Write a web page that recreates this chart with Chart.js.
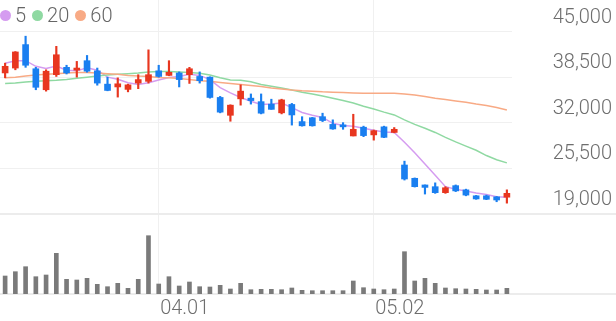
<!DOCTYPE html>
<html>
<head>
<meta charset="utf-8">
<script src="https://cdn.jsdelivr.net/npm/chart.js@4.4.1/dist/chart.umd.min.js"></script>
<style>
  html, body { margin: 0; padding: 0; background: #fff; }
  #wrap { position: relative; width: 616px; height: 321px; }
  #legend {
    position: absolute; left: 0; top: 3px;
    font-family: Roboto, sans-serif; font-weight: 300; font-size: 20px; color: #666;
    display: flex; align-items: center; line-height: 24px;
  }
  #legend .dot { display: inline-block; width: 11px; height: 11px; border-radius: 50%; margin-right: 4px; }
  #legend .txt { margin-right: 6px; }
</style>
</head>
<body>
<div id="wrap">
  <canvas id="c" width="616" height="321"></canvas>
  <div id="legend"></div>
</div>
<script>
// trading days
const dates = ['03.11','03.12','03.13','03.14','03.15','03.18','03.19','03.20','03.21','03.22',
  '03.25','03.26','03.27','03.28','03.29','04.01','04.02','04.03','04.04','04.05',
  '04.08','04.09','04.11','04.12','04.15','04.16','04.17','04.18','04.19','04.22',
  '04.23','04.24','04.25','04.26','04.29','04.30','05.02','05.03','05.07','05.08',
  '05.09','05.10','05.13','05.14','05.16','05.17','05.20','05.21','05.22','05.23'];

const opens = [39150,39850,43200,39750,36750,38900,39950,39550,40900,39450,
  37550,37150,36800,37700,37950,39450,38800,39150,38900,38650,
  38550,35650,33100,35450,35550,35050,34700,33450,34650,32200,
  32750,32900,31800,31700,30150,31400,30300,31450,30650,26000,
  24100,23150,22900,22050,23050,22450,21600,21600,21450,21400];
const highs = [40550,42200,44400,39950,39600,42950,40250,40800,41650,39850,
  38550,38450,37550,38900,42450,40250,40900,39300,39950,39300,
  38600,35800,34600,37450,36150,36150,35400,35400,34800,32900,
  32800,33400,32450,32050,33250,31550,31000,31550,31350,26550,
  24150,23150,23450,22900,23150,22550,21650,21700,21500,22450];
const lows = [38450,39600,39950,36750,36550,38650,39000,38550,39250,37400,
  36600,35700,36450,36900,37700,38550,38750,37150,37650,37700,
  35550,33450,32250,34550,34700,33300,33950,33300,31700,31550,
  31550,32200,31100,31100,30150,30050,29550,29900,30600,23850,
  22850,21850,21950,21950,22200,21600,21100,21050,20750,20550];
const closes = [40100,42150,40250,37100,39400,41750,39150,39850,39400,37700,
  36650,37600,37450,38200,38900,38650,39250,38200,39750,38050,
  35650,33550,34550,36550,35200,33400,33950,35300,33150,31600,
  31600,32350,31150,31450,31100,30200,30900,29950,31100,24000,
  22900,22800,22050,22750,22300,21700,21150,21100,21000,21950];

const ma5 = [40550,40900,40900,40100,39800,40150,39550,39450,39900,39550,
  38550,38250,37750,37500,37750,38150,38500,38650,38950,38800,
  38200,37050,36300,35650,35100,34650,34700,34850,34200,33500,
  33100,32800,31950,31650,31550,31250,30950,30700,30650,29250,
  27750,26150,24550,22900,22550,22300,22000,21800,21450,21400];
const ma20 = [37650,37700,37850,37950,38050,38100,38200,38400,38550,38700,
  38850,38950,39050,39150,39300,39350,39350,39300,39200,39100,
  38850,38450,38150,38100,37900,37500,37250,37000,36700,36400,
  36150,35850,35550,35200,34850,34400,34000,33550,33150,32450,
  31800,31250,30650,29950,29300,28700,28100,27350,26750,26300];
const ma60 = [38450,38550,38700,38850,38950,39050,39150,39200,39200,39150,
  39050,38950,38800,38700,38650,38500,38450,38350,38200,38050,
  37950,37800,37650,37500,37350,37200,37000,36850,36700,36600,
  36550,36450,36400,36350,36300,36250,36250,36250,36250,36150,
  36000,35800,35550,35350,35150,34950,34700,34500,34200,33850];

// volume, thousand shares
const volumes = [360,446,546,346,380,814,294,280,314,194,
  146,214,114,294,1166,200,346,160,240,146,
  140,174,100,214,86,94,94,86,120,74,
  66,66,66,66,260,126,100,86,100,846,
  260,314,214,120,106,100,94,80,80,114];

const priceTicks = [19000, 25500, 32000, 38500, 45000];
const dateTicks = [15, 36]; // 04.01, 05.02
const maNames = ['5', '20', '60'];
const maColors = ['#d59cf0', '#8fd9a2', '#f8aa85'];

const UP = '#e8361f';
const DOWN = '#1a7ff0';
const candleColors = closes.map((c, i) => c >= opens[i] ? UP : DOWN);

const font = { family: 'Roboto, sans-serif', size: 20, weight: '300' };
const labelColor = '#6e6e6e';
const gridColor = '#f0f0f0';

// full-width separator lines under price panel and volume panel
const separators = {
  id: 'separators',
  beforeDatasetsDraw(chart) {
    const ctx = chart.ctx;
    const yPrice = chart.scales.y.getPixelForValue(priceTicks[0]);
    const yBase = chart.chartArea.bottom;
    ctx.save();
    ctx.strokeStyle = '#ececec';
    ctx.lineWidth = 2;
    [yPrice, yBase].forEach(y => {
      ctx.beginPath();
      ctx.moveTo(0, y);
      ctx.lineTo(chart.width, y);
      ctx.stroke();
    });
    ctx.restore();
  }
};

const lineSet = (data, i) => ({
  type: 'line', label: maNames[i], data: data, yAxisID: 'y',
  borderColor: maColors[i], borderWidth: 1.5, pointRadius: 0, tension: 0, order: 5
});

new Chart(document.getElementById('c'), {
  type: 'bar',
  data: {
    labels: dates,
    datasets: [
      lineSet(ma60, 2),
      lineSet(ma20, 1),
      lineSet(ma5, 0),
      {
        label: 'wick', yAxisID: 'y', grouped: false, order: 2,
        data: dates.map((d, i) => [lows[i], highs[i]]),
        backgroundColor: candleColors, barThickness: 1.5
      },
      {
        label: 'body', yAxisID: 'y', grouped: false, order: 1,
        data: dates.map((d, i) => [opens[i], closes[i]]),
        backgroundColor: candleColors, barThickness: 6, minBarLength: 2
      },
      {
        label: 'volume', yAxisID: 'yv', grouped: false, order: 6,
        data: volumes, backgroundColor: '#7a7a7a', barThickness: 4
      }
    ]
  },
  options: {
    responsive: false,
    animation: false,
    layout: { padding: { right: 4 } },
    plugins: { legend: { display: false }, tooltip: { enabled: false } },
    scales: {
      x: {
        offset: true,
        grid: { offset: false, color: gridColor, drawTicks: false },
        border: { display: false },
        ticks: { font: font, color: labelColor, labelOffset: 26, padding: 3, maxRotation: 0, autoSkip: false },
        afterBuildTicks: s => { s.ticks = dateTicks.map(v => ({ value: v })); },
        afterFit: s => { s.height = 27; s.paddingLeft = 0; s.paddingRight = 0; }
      },
      y: {
        position: 'right',
        min: 7571, max: 49571,
        grid: {
          color: c => (c.tick && c.tick.value === priceTicks[0]) ? 'rgba(0,0,0,0)' : gridColor,
          drawTicks: false
        },
        border: { display: false },
        ticks: {
          font: font, color: labelColor, crossAlign: 'far', padding: 0, labelOffset: -14,
          callback: v => v.toLocaleString('en-US')
        },
        afterBuildTicks: s => { s.ticks = priceTicks.map(v => ({ value: v })); },
        afterFit: s => { s.width = 100; s.paddingTop = 0; s.paddingBottom = 0; }
      },
      yv: { display: false, min: 0, max: 5880 }
    }
  },
  plugins: [separators]
});

// legend
const legend = document.getElementById('legend');
maNames.forEach((n, i) => {
  legend.insertAdjacentHTML('beforeend',
    '<span class="dot" style="background:' + maColors[i] + '"></span><span class="txt">' + n + '</span>');
});
</script>
</body>
</html>
